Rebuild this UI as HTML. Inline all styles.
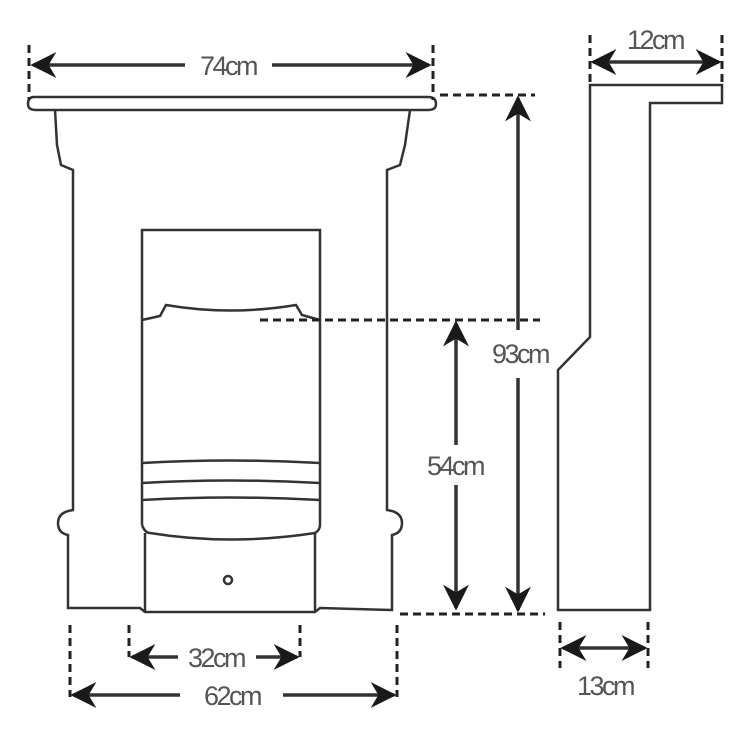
<!DOCTYPE html>
<html><head><style>html,body{margin:0;padding:0;background:#fff}svg{display:block}</style></head><body>
<svg width="750" height="750" viewBox="0 0 750 750" xmlns="http://www.w3.org/2000/svg">
<defs>
<marker id="b" viewBox="0 0 10 10" refX="9" refY="5" markerWidth="40" markerHeight="26" markerUnits="userSpaceOnUse" orient="auto-start-reverse"><path d="M0,0 L10,5 L0,10 L3,5 Z" fill="#1a1a1a"/></marker>
</defs>
<g fill="none" stroke="#333" stroke-width="2.5">
<path d="M34,97 L428,97 Q436,97 436,104 Q436,110 428,110 L36,110 Q28,110 28,104 Q28,97 34,97 Z"/>
<path d="M55,110 L57,145 L61,165 L73,170 L73,510 Q58,512 58,523 Q58,533 68,535 L68,608 L140,608 L145,612 L315,612 L320,608 L392,610 L392,535 Q402,533 402,523 Q402,512 387,510 L387,170 L400,165 L405,145 L410,110"/>
<path d="M142,525 L142,230 L320,230 L320,525"/>
<path d="M142,320 L160,316 L166,305 Q230,316 296,305 L302,315 L320,320"/>
<path d="M142,463 Q230,458 320,463 M142,483 Q230,478 320,483 M142,500 Q230,495 320,500"/>
<path d="M142,525 Q145,533 150,533 Q230,546 315,533 Q320,530 320,525"/>
<path d="M145,533 L145,612 M315,533 L315,612"/>
<circle cx="228" cy="580" r="4"/>
<path d="M590,85 L722,85 L722,103 L650,103 L650,610 L558,610 L558,370 L590,337 Z"/>
</g>
<g stroke="#222" stroke-width="3" stroke-dasharray="8,5" fill="none">
<path d="M29,45 L29,100 M433,45 L433,100"/>
<path d="M440,95 L535,95 M260,320 L540,320 M400,614 L545,614"/>
<path d="M70,625 L70,697 M397,625 L397,697 M129,625 L129,657 M300,625 L300,657"/>
<path d="M590,35 L590,85 M722,35 L722,85"/>
<path d="M560,622 L560,668 M648,622 L648,668"/>
</g>
<g stroke="#333" stroke-width="3.5" fill="none">
<path d="M185,65 L33,65" marker-end="url(#b)"/><path d="M272,65 L429,65" marker-end="url(#b)"/>
<path d="M593,62 L719,62" marker-start="url(#b)" marker-end="url(#b)"/>
<path d="M518,330 L518,98" marker-end="url(#b)"/><path d="M518,378 L518,610" marker-end="url(#b)"/>
<path d="M456,445 L456,323" marker-end="url(#b)"/><path d="M456,485 L456,608" marker-end="url(#b)"/>
<path d="M178,657 L132,657" marker-end="url(#b)"/><path d="M256,657 L297,657" marker-end="url(#b)"/>
<path d="M180,695 L73,695" marker-end="url(#b)"/><path d="M283,695 L394,695" marker-end="url(#b)"/>
<path d="M563,648 L645,648" marker-start="url(#b)" marker-end="url(#b)"/>
</g>
<g font-family="Liberation Sans, sans-serif" font-size="27" fill="#555" text-anchor="middle" letter-spacing="-2.5">
<text x="228" y="75">74cm</text>
<text x="655" y="49">12cm</text>
<text x="520" y="363">93cm</text>
<text x="455" y="475">54cm</text>
<text x="216" y="667">32cm</text>
<text x="232" y="705">62cm</text>
<text x="605" y="695">13cm</text>
</g>
</svg>
</body></html>
